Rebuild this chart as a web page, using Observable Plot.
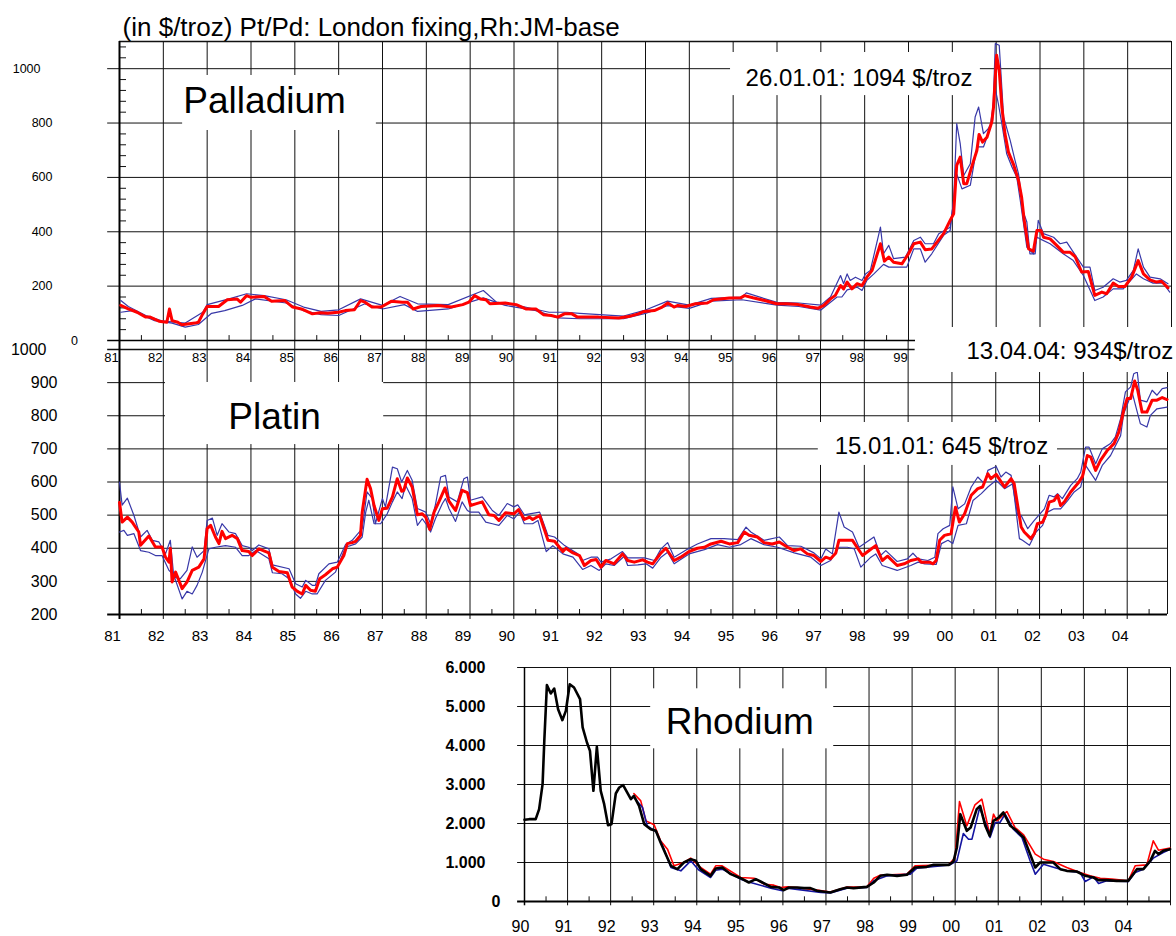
<!DOCTYPE html>
<html><head><meta charset="utf-8">
<script src="https://cdn.jsdelivr.net/npm/d3@7"></script>
<script src="https://cdn.jsdelivr.net/npm/@observablehq/plot@0.6"></script>
<style>
body{margin:0;background:#fff;}
#wrap{position:relative;width:1176px;height:936px;overflow:hidden;background:#fff;}
#wrap svg{position:absolute;left:0;top:0;}
</style></head><body><div id="wrap"></div>
<script>
// ---------------- DATA ----------------
const titleText = "(in $/troz) Pt/Pd: London fixing,Rh:JM-base";

// Palladium (London fixing) : monthly average (red), high / low (blue)
const pdAvg = [[1981.03,129],[1981.2,116],[1981.4,104],[1981.6,86],[1981.7,86],[1981.9,71],[1982.08,67],[1982.14,116],[1982.2,73],[1982.33,67],[1982.42,58],[1982.59,62],[1982.72,64],[1982.8,67],[1982.9,98],[1983.0,125],[1983.26,125],[1983.46,150],[1983.68,153],[1983.76,141],[1983.9,165],[1984.0,159],[1984.3,162],[1984.47,144],[1984.77,147],[1984.95,123],[1985.15,116],[1985.4,98],[1985.57,102],[1985.75,100],[1985.92,103],[1986.0,104],[1986.15,110],[1986.36,113],[1986.5,147],[1986.6,141],[1986.76,123],[1986.97,123],[1987.2,144],[1987.45,141],[1987.57,141],[1987.7,116],[1987.88,125],[1988.27,129],[1988.57,123],[1988.83,132],[1988.97,141],[1989.1,165],[1989.23,153],[1989.36,150],[1989.45,135],[1989.8,138],[1990.05,132],[1990.27,116],[1990.5,116],[1990.67,95],[1990.85,92],[1991.0,86],[1991.15,98],[1991.32,98],[1991.45,86],[1991.75,86],[1991.93,86],[1992.39,83],[1992.61,88],[1992.84,98],[1992.97,107],[1993.2,110],[1993.38,123],[1993.51,138],[1993.65,123],[1993.74,129],[1993.92,125],[1994.14,135],[1994.41,138],[1994.55,150],[1994.91,156],[1995.17,157],[1995.26,165],[1995.45,157],[1995.72,147],[1995.99,135],[1996.22,135],[1996.49,132],[1996.76,123],[1996.94,119],[1997.07,129],[1997.22,153],[1997.33,166],[1997.45,202],[1997.52,190],[1997.6,215],[1997.71,190],[1997.83,209],[1997.94,202],[1998.05,233],[1998.17,258],[1998.36,356],[1998.45,292],[1998.55,307],[1998.66,288],[1998.85,282],[1999.0,319],[1999.12,356],[1999.27,362],[1999.38,334],[1999.53,337],[1999.65,362],[1999.8,393],[1999.95,442],[2000.03,466],[2000.1,644],[2000.18,675],[2000.26,577],[2000.33,577],[2000.44,638],[2000.56,699],[2000.61,758],[2000.69,730],[2000.79,748],[2000.9,804],[2000.94,859],[2001.01,1049],[2001.07,994],[2001.13,859],[2001.2,761],[2001.28,693],[2001.39,650],[2001.51,589],[2001.58,528],[2001.64,442],[2001.74,337],[2001.85,329],[2001.93,405],[2002.02,405],[2002.08,380],[2002.23,374],[2002.38,350],[2002.53,325],[2002.68,325],[2002.8,309],[2002.95,252],[2003.1,254],[2003.25,166],[2003.41,178],[2003.52,172],[2003.67,211],[2003.79,199],[2003.94,199],[2004.09,233],[2004.24,294],[2004.36,245],[2004.51,223],[2004.66,215],[2004.77,218],[2004.92,194]];
const pdHigh = [[1981.03,147],[1981.2,125],[1981.6,92],[1982.0,71],[1982.5,64],[1982.9,104],[1983.0,132],[1983.5,153],[1983.9,172],[1984.3,165],[1984.8,150],[1985.2,123],[1985.6,107],[1986.0,113],[1986.5,153],[1987.0,129],[1987.4,162],[1987.8,135],[1988.5,132],[1989.3,184],[1989.6,141],[1990.2,125],[1990.8,104],[1991.2,104],[1991.5,100],[1992.5,90],[1993.0,112],[1993.5,145],[1994.0,130],[1994.5,155],[1995.2,160],[1995.3,175],[1996.0,140],[1996.5,138],[1997.0,130],[1997.22,160],[1997.45,239],[1997.52,209],[1997.6,245],[1997.67,221],[1997.79,233],[1997.94,221],[1998.02,245],[1998.13,258],[1998.36,417],[1998.43,319],[1998.55,350],[1998.66,301],[1998.93,307],[1999.12,368],[1999.27,380],[1999.38,356],[1999.57,356],[1999.69,393],[1999.95,417],[2000.03,515],[2000.1,798],[2000.18,724],[2000.26,607],[2000.41,650],[2000.52,822],[2000.6,859],[2000.71,761],[2000.82,779],[2000.92,810],[2000.98,1092],[2001.07,1086],[2001.17,822],[2001.32,736],[2001.43,663],[2001.51,613],[2001.62,472],[2001.7,436],[2001.77,319],[2001.89,319],[2001.96,442],[2002.08,393],[2002.31,380],[2002.46,356],[2002.61,362],[2002.76,325],[2002.99,270],[2003.14,270],[2003.25,184],[2003.44,196],[2003.67,227],[2003.82,215],[2003.97,221],[2004.13,258],[2004.24,337],[2004.36,270],[2004.51,233],[2004.74,227],[2004.92,209]];
const pdLow = [[1981.03,104],[1981.3,110],[1981.8,73],[1982.2,64],[1982.5,49],[1982.8,59],[1983.1,100],[1983.4,110],[1983.8,129],[1984.1,153],[1984.8,138],[1985.2,110],[1985.6,95],[1986.0,92],[1986.6,135],[1987.0,116],[1987.5,132],[1987.8,107],[1988.5,116],[1989.3,157],[1989.8,129],[1990.5,110],[1991.0,83],[1991.5,80],[1992.5,80],[1993.0,100],[1993.5,128],[1994.0,118],[1994.5,145],[1995.2,150],[1996.0,130],[1996.5,125],[1997.0,112],[1997.22,141],[1997.37,160],[1997.48,160],[1997.6,186],[1997.83,196],[1997.94,184],[1998.05,221],[1998.21,245],[1998.43,280],[1998.55,270],[1998.96,270],[1999.12,337],[1999.27,337],[1999.38,288],[1999.53,319],[1999.8,387],[1999.95,405],[2000.1,613],[2000.22,558],[2000.41,571],[2000.56,712],[2000.71,712],[2000.86,779],[2000.98,926],[2001.05,871],[2001.13,797],[2001.24,687],[2001.36,638],[2001.47,601],[2001.55,515],[2001.7,343],[2001.85,319],[2001.93,380],[2002.0,374],[2002.23,356],[2002.53,319],[2002.76,294],[2002.99,239],[2003.25,147],[2003.44,160],[2003.67,190],[2003.9,190],[2004.2,245],[2004.36,227],[2004.58,211],[2004.81,211],[2004.96,178]];

// Platinum (London fixing)
const ptAvg = [[1981.0,538],[1981.06,479],[1981.18,494],[1981.29,479],[1981.44,449],[1981.48,409],[1981.67,437],[1981.82,404],[1981.97,404],[1982.05,373],[1982.13,358],[1982.16,400],[1982.2,298],[1982.28,328],[1982.43,278],[1982.54,298],[1982.66,333],[1982.81,343],[1982.93,368],[1983.0,459],[1983.08,469],[1983.19,434],[1983.27,414],[1983.34,451],[1983.42,429],[1983.57,439],[1983.69,429],[1983.8,393],[1983.95,390],[1984.03,378],[1984.18,398],[1984.41,386],[1984.49,343],[1984.64,330],[1984.83,326],[1984.94,283],[1985.06,270],[1985.17,262],[1985.25,288],[1985.36,273],[1985.47,270],[1985.57,308],[1985.7,320],[1985.86,338],[1985.97,343],[1986.12,378],[1986.2,414],[1986.31,417],[1986.39,421],[1986.5,439],[1986.54,509],[1986.65,608],[1986.73,580],[1986.81,529],[1986.92,484],[1987.0,519],[1987.11,521],[1987.23,555],[1987.34,610],[1987.44,572],[1987.49,575],[1987.57,612],[1987.68,585],[1987.8,501],[1987.91,504],[1987.99,494],[1988.08,457],[1988.18,509],[1988.29,540],[1988.43,582],[1988.52,542],[1988.67,514],[1988.82,575],[1988.94,568],[1989.01,529],[1989.13,534],[1989.28,540],[1989.43,501],[1989.55,499],[1989.66,484],[1989.81,507],[1990.0,504],[1990.11,517],[1990.24,487],[1990.36,494],[1990.43,487],[1990.59,499],[1990.78,424],[1990.93,421],[1991.12,390],[1991.19,400],[1991.35,386],[1991.5,378],[1991.61,348],[1991.76,363],[1991.88,366],[1991.99,343],[1992.1,363],[1992.29,353],[1992.48,383],[1992.6,363],[1992.75,358],[1992.94,365],[1993.05,358],[1993.17,353],[1993.36,386],[1993.47,400],[1993.66,363],[1993.81,373],[1994.0,390],[1994.19,400],[1994.35,403],[1994.5,413],[1994.73,421],[1994.92,413],[1995.11,417],[1995.26,449],[1995.37,439],[1995.56,434],[1995.71,417],[1995.9,413],[1996.06,419],[1996.25,403],[1996.4,393],[1996.55,398],[1996.7,383],[1996.85,378],[1997.01,360],[1997.12,373],[1997.23,368],[1997.35,386],[1997.42,424],[1997.54,424],[1997.73,424],[1997.96,378],[1998.11,393],[1998.26,408],[1998.41,363],[1998.53,376],[1998.75,348],[1998.91,353],[1999.06,363],[1999.23,368],[1999.3,358],[1999.49,358],[1999.57,353],[1999.64,363],[1999.72,424],[1999.83,439],[1999.98,444],[2000.08,524],[2000.17,479],[2000.29,504],[2000.44,560],[2000.59,580],[2000.7,585],[2000.82,625],[2000.89,610],[2001.01,623],[2001.2,585],[2001.35,610],[2001.42,595],[2001.58,464],[2001.65,449],[2001.8,429],[2001.88,444],[2001.95,474],[2002.07,479],[2002.14,499],[2002.22,539],[2002.33,544],[2002.41,560],[2002.48,529],[2002.56,539],[2002.71,570],[2002.9,600],[2002.98,617],[2003.09,680],[2003.17,675],[2003.28,635],[2003.39,665],[2003.55,696],[2003.7,716],[2003.81,751],[2003.92,816],[2004.0,852],[2004.08,852],[2004.17,905],[2004.24,877],[2004.34,811],[2004.45,811],[2004.57,847],[2004.68,847],[2004.8,855],[2004.91,849]];
const ptHigh = [[1981.0,600],[1981.06,530],[1981.18,551],[1981.33,499],[1981.48,434],[1981.63,454],[1981.75,424],[1981.9,419],[1982.05,383],[1982.16,424],[1982.24,313],[1982.39,308],[1982.54,333],[1982.66,404],[1982.77,373],[1982.93,393],[1983.0,484],[1983.12,491],[1983.23,439],[1983.34,474],[1983.5,449],[1983.65,444],[1983.8,408],[1983.95,403],[1984.03,393],[1984.18,410],[1984.41,398],[1984.49,350],[1984.87,338],[1985.02,293],[1985.17,283],[1985.25,303],[1985.4,288],[1985.47,288],[1985.55,323],[1985.78,353],[1985.97,358],[1986.16,411],[1986.31,424],[1986.54,459],[1986.65,570],[1986.77,550],[1986.84,474],[1987.0,550],[1987.07,525],[1987.23,645],[1987.34,640],[1987.44,600],[1987.57,635],[1987.68,605],[1987.8,520],[1987.99,509],[1988.1,474],[1988.21,531],[1988.33,615],[1988.44,620],[1988.52,555],[1988.71,540],[1988.86,610],[1988.94,615],[1989.01,545],[1989.28,555],[1989.51,514],[1989.66,499],[1989.85,535],[1990.0,525],[1990.09,531],[1990.24,501],[1990.36,504],[1990.59,509],[1990.78,439],[1990.93,434],[1991.16,408],[1991.46,383],[1991.57,363],[1991.76,373],[1991.91,373],[1991.99,358],[1992.22,368],[1992.48,390],[1992.6,371],[1992.98,371],[1993.21,363],[1993.36,398],[1993.51,417],[1993.66,373],[1993.97,398],[1994.19,413],[1994.5,429],[1994.8,429],[1995.11,426],[1995.3,464],[1995.41,449],[1995.71,424],[1996.06,434],[1996.25,408],[1996.55,406],[1996.85,386],[1997.01,368],[1997.12,398],[1997.27,383],[1997.42,509],[1997.54,464],[1997.73,449],[1997.88,403],[1998.22,434],[1998.37,378],[1998.49,393],[1998.75,360],[1998.98,368],[1999.11,385],[1999.23,368],[1999.45,363],[1999.61,373],[1999.68,444],[1999.8,459],[1999.95,469],[2000.02,585],[2000.14,519],[2000.29,534],[2000.44,585],[2000.59,615],[2000.74,595],[2000.82,635],[2001.01,647],[2001.12,615],[2001.23,630],[2001.35,620],[2001.5,499],[2001.58,499],[2001.73,459],[2001.88,484],[2002.11,519],[2002.22,560],[2002.33,555],[2002.41,565],[2002.52,550],[2002.71,590],[2002.86,610],[2002.94,630],[2003.05,705],[2003.13,705],[2003.28,655],[2003.43,700],[2003.62,716],[2003.73,736],[2003.85,791],[2003.96,872],[2004.08,887],[2004.15,927],[2004.23,932],[2004.3,847],[2004.45,842],[2004.57,877],[2004.68,862],[2004.8,882],[2004.91,885]];
const ptLow = [[1981.0,449],[1981.1,454],[1981.18,439],[1981.33,444],[1981.48,393],[1981.67,388],[1981.82,378],[1981.97,378],[1982.13,333],[1982.24,318],[1982.43,247],[1982.54,270],[1982.66,262],[1982.77,288],[1982.89,328],[1983.04,398],[1983.19,403],[1983.42,408],[1983.65,403],[1983.8,378],[1983.95,378],[1984.11,393],[1984.41,368],[1984.49,326],[1984.71,323],[1984.87,308],[1985.02,262],[1985.13,249],[1985.25,270],[1985.4,262],[1985.51,262],[1985.7,303],[1985.93,328],[1986.16,403],[1986.39,413],[1986.54,434],[1986.62,509],[1986.69,545],[1986.81,474],[1986.96,474],[1987.11,504],[1987.23,540],[1987.34,570],[1987.45,550],[1987.53,590],[1987.68,550],[1987.8,469],[1987.91,489],[1988.02,469],[1988.1,449],[1988.21,489],[1988.37,535],[1988.44,550],[1988.52,520],[1988.67,481],[1988.82,540],[1988.94,514],[1989.01,509],[1989.2,509],[1989.36,479],[1989.51,474],[1989.66,469],[1989.85,499],[1990.0,489],[1990.13,509],[1990.24,474],[1990.43,474],[1990.55,484],[1990.74,390],[1990.89,408],[1991.12,383],[1991.35,373],[1991.57,336],[1991.76,348],[1991.95,333],[1992.1,353],[1992.29,348],[1992.52,376],[1992.6,348],[1992.83,350],[1993.02,353],[1993.17,340],[1993.36,373],[1993.51,388],[1993.66,353],[1994.0,383],[1994.35,396],[1994.65,411],[1994.92,403],[1995.18,411],[1995.41,429],[1995.71,411],[1996.02,403],[1996.4,386],[1996.78,373],[1997.01,348],[1997.23,363],[1997.42,403],[1997.61,403],[1997.77,398],[1997.92,343],[1998.15,373],[1998.26,383],[1998.41,348],[1998.75,333],[1999.06,348],[1999.23,358],[1999.38,353],[1999.64,351],[1999.76,414],[1999.91,424],[2000.02,414],[2000.14,469],[2000.33,474],[2000.48,544],[2000.67,565],[2000.82,585],[2001.01,605],[2001.2,580],[2001.39,595],[2001.54,429],[2001.61,424],[2001.77,409],[2001.92,449],[2002.07,469],[2002.18,509],[2002.33,519],[2002.48,519],[2002.64,544],[2002.79,570],[2002.94,585],[2003.05,650],[2003.28,605],[2003.43,650],[2003.62,680],[2003.85,740],[2003.92,806],[2004.04,847],[2004.11,872],[2004.23,811],[2004.3,776],[2004.45,766],[2004.53,801],[2004.68,821],[2004.91,826]];

// Rhodium (JM base): main (black), high (red), low (blue)
const rhMid = [[1990.0,2094],[1990.11,2111],[1990.26,2111],[1990.34,2367],[1990.42,3009],[1990.46,4120],[1990.52,5547],[1990.61,5333],[1990.69,5461],[1990.78,4931],[1990.88,4650],[1990.96,4889],[1991.05,5572],[1991.15,5487],[1991.29,5188],[1991.35,4462],[1991.45,4077],[1991.52,3863],[1991.6,2838],[1991.68,3966],[1991.77,2838],[1991.85,2496],[1991.94,1957],[1992.02,1983],[1992.12,2769],[1992.2,2923],[1992.29,2983],[1992.47,2624],[1992.54,2709],[1992.66,2453],[1992.78,1983],[1992.93,1855],[1993.05,1812],[1993.16,1513],[1993.28,1214],[1993.4,915],[1993.55,829],[1993.7,1000],[1993.86,1085],[1993.98,1043],[1994.09,829],[1994.32,658],[1994.44,846],[1994.59,872],[1994.79,701],[1995.02,598],[1995.21,487],[1995.37,573],[1995.48,513],[1995.72,376],[1995.91,359],[1996.02,291],[1996.14,359],[1996.33,359],[1996.49,342],[1996.64,342],[1996.79,274],[1997.1,231],[1997.33,316],[1997.49,359],[1997.64,342],[1997.95,376],[1998.11,487],[1998.26,658],[1998.42,684],[1998.65,658],[1998.88,684],[1999.07,872],[1999.34,889],[1999.5,940],[1999.85,940],[1999.96,1026],[2000.04,1385],[2000.12,2239],[2000.27,1812],[2000.36,1897],[2000.5,2367],[2000.58,2453],[2000.7,1940],[2000.8,1684],[2000.89,2068],[2001.01,2154],[2001.12,2282],[2001.28,1940],[2001.43,1812],[2001.59,1641],[2001.74,1214],[2001.86,872],[2001.97,1000],[2002.13,1000],[2002.28,1000],[2002.44,829],[2002.59,786],[2002.82,769],[2003.02,658],[2003.21,615],[2003.33,547],[2003.52,547],[2003.75,530],[2004.02,530],[2004.22,829],[2004.37,829],[2004.53,1043],[2004.64,1299],[2004.72,1214],[2004.83,1299],[2004.99,1342]];
const rhHigh = [[1992.54,2769],[1992.7,2581],[1992.82,2068],[1993.01,1966],[1993.16,1556],[1993.32,1342],[1993.47,915],[1993.7,1000],[1993.86,1111],[1994.09,872],[1994.32,701],[1994.44,915],[1994.59,915],[1995.02,615],[1995.33,598],[1995.56,444],[1995.79,419],[1995.95,359],[1996.1,376],[1996.4,350],[1996.79,291],[1997.1,240],[1997.49,370],[1997.95,376],[1998.11,598],[1998.26,675],[1998.88,701],[1999.07,915],[1999.85,940],[2000.0,1128],[2000.1,2564],[2000.27,1940],[2000.46,2479],[2000.62,2624],[2000.8,1726],[2000.89,2239],[2000.97,2068],[2001.2,2308],[2001.39,1897],[2001.59,1709],[2001.86,1214],[2002.05,1085],[2002.28,1026],[2002.59,872],[2002.9,744],[2003.13,658],[2003.37,598],[2003.64,573],[2004.02,530],[2004.18,915],[2004.45,940],[2004.6,1556],[2004.72,1316],[2004.99,1368]];
const rhLow = [[1992.54,2667],[1992.74,2410],[1992.85,1940],[1993.05,1795],[1993.24,1342],[1993.4,872],[1993.63,786],[1993.86,1043],[1994.05,803],[1994.32,615],[1994.44,803],[1994.59,829],[1995.02,573],[1995.25,487],[1995.72,342],[1995.99,274],[1996.1,342],[1996.88,231],[1997.1,220],[1997.49,340],[1997.95,359],[1998.11,530],[1998.42,658],[1998.96,701],[1999.11,855],[1999.88,940],[2000.04,1043],[2000.19,1744],[2000.31,1598],[2000.39,1598],[2000.57,2410],[2000.74,1897],[2000.81,1641],[2000.93,2026],[2001.04,2026],[2001.16,2239],[2001.35,1855],[2001.55,1641],[2001.74,1043],[2001.86,701],[2002.05,957],[2002.36,855],[2002.59,786],[2002.9,744],[2003.02,513],[2003.21,632],[2003.33,462],[2003.52,530],[2004.02,513],[2004.18,744],[2004.37,829],[2004.6,1111],[2004.83,1256],[2004.99,1342]];

// Axis ticks and labels
const pdYTicks = [200, 400, 600, 800];
const pdYLabels = ["200", "400", "600", "800"];
const pdXYears = [1981,1982,1983,1984,1985,1986,1987,1988,1989,1990,1991,1992,1993,1994,1995,1996,1997,1998,1999];
const pdXLabels = ["81","82","83","84","85","86","87","88","89","90","91","92","93","94","95","96","97","98","99"];
const ptYTicks = [200, 300, 400, 500, 600, 700, 800, 900];
const ptYLabels = ["200","300","400","500","600","700","800","900"];
const ptXYears = [1981,1982,1983,1984,1985,1986,1987,1988,1989,1990,1991,1992,1993,1994,1995,1996,1997,1998,1999,2000,2001,2002,2003,2004];
const ptXLabels = ["81","82","83","84","85","86","87","88","89","90","91","92","93","94","95","96","97","98","99","00","01","02","03","04"];
const rhYTicks = [1000, 2000, 3000, 4000, 5000, 6000];
const rhYLabels = ["1.000","2.000","3.000","4.000","5.000","6.000"];
const rhXYears = [1990,1991,1992,1993,1994,1995,1996,1997,1998,1999,2000,2001,2002,2003,2004];
const rhXLabels = ["90","91","92","93","94","95","96","97","98","99","00","01","02","03","04"];

// ---------------- DRAWING ----------------
const FONT = "'Liberation Sans', Arial, Helvetica, sans-serif";
const GRID = "#111";
const BLUE = "#3838a8";
const c = v => () => v;
const X = d => d[0], Y = d => d[1];
const style = {background: "transparent", fontFamily: FONT, overflow: "visible"};
const halfYears = (a, b) => d3.range(a + 0.5, b, 1);

// Platinum (bottom layer)
const pt = Plot.plot({
  width: 1176, height: 936,
  marginLeft: 119, marginRight: 9, marginTop: 349, marginBottom: 322,
  x: {domain: [1981, 2004.92], axis: null}, y: {domain: [200, 1000], axis: null},
  style,
  marks: [
    Plot.ruleX(ptXYears.slice(1), {x: d => d, y1: c(185), y2: c(1027), stroke: GRID, strokeWidth: 1}),
    Plot.ruleY(ptYTicks.slice(1), {y: d => d, x1: c(1980.73), x2: c(2004.92), stroke: GRID, strokeWidth: 1}),
    Plot.ruleY([1000], {x1: c(1980.73), x2: c(1999.16), stroke: GRID, strokeWidth: 1.3}),
    Plot.ruleX([2004.92], {y1: c(200), y2: c(1000), stroke: GRID, strokeWidth: 1}),
    Plot.ruleX(halfYears(1981, 2005), {x: d => d, y1: c(200), y2: c(215), stroke: GRID, strokeWidth: 1}),
    Plot.ruleY([200], {x1: c(1980.73), x2: c(2004.92), stroke: "#000", strokeWidth: 2}),
    Plot.ruleX([1981], {y1: c(185), y2: c(1027), stroke: "#000", strokeWidth: 2}),
    Plot.rect([0], {x1: c(1982.05), x2: c(1987.03), y1: c(713), y2: c(900.4), fill: "white"}),
    Plot.rect([0], {x1: c(1996.95), x2: c(2002.41), y1: c(650), y2: c(779.6), fill: "white"}),
    Plot.line(ptHigh, {x: X, y: Y, stroke: BLUE, strokeWidth: 1.2}),
    Plot.line(ptLow, {x: X, y: Y, stroke: BLUE, strokeWidth: 1.2}),
    Plot.line(ptAvg, {x: X, y: Y, stroke: "#ff0000", strokeWidth: 3, strokeLinejoin: "round"}),
    Plot.text(["Platin"], {x: c(1984.54), y: c(796), text: d => d, fontSize: 37}),
    Plot.text(["15.01.01: 645 $/troz"], {x: c(1999.76), y: c(708), text: d => d, fontSize: 24}),
    Plot.text(ptYLabels, {x: c(1981), y: (d, i) => ptYTicks[i], text: d => d, textAnchor: "end", dx: -62, fontSize: 16}),
    Plot.text(["1000"], {x: c(1981), y: c(1000), text: d => d, textAnchor: "end", dx: -73, fontSize: 16}),
    Plot.text(ptXLabels, {x: (d, i) => ptXYears[i], y: c(133.6), text: d => d, dx: -7, fontSize: 15})
  ]
});

// Rhodium
const rh = Plot.plot({
  width: 1176, height: 936,
  marginLeft: 524, marginRight: 6, marginTop: 667, marginBottom: 35,
  x: {domain: [1990, 2005], axis: null}, y: {domain: [0, 6000], axis: null},
  style,
  marks: [
    Plot.ruleX(rhXYears.slice(1), {x: d => d, y1: c(-110), y2: c(6000), stroke: GRID, strokeWidth: 1}),
    Plot.ruleY(rhYTicks, {y: d => d, x1: c(1989.84), x2: c(2005), stroke: GRID, strokeWidth: 1}),
    Plot.ruleX([2005], {y1: c(-110), y2: c(6000), stroke: GRID, strokeWidth: 1}),
    Plot.ruleX(halfYears(1990, 2005), {x: d => d, y1: c(0), y2: c(120), stroke: GRID, strokeWidth: 1}),
    Plot.ruleY([0], {x1: c(1989.84), x2: c(2005), stroke: "#000", strokeWidth: 2}),
    Plot.ruleX([1990], {y1: c(-110), y2: c(6000), stroke: "#000", strokeWidth: 1.5}),
    Plot.rect([0], {x1: c(1992.93), x2: c(1997.18), y1: c(3915), y2: c(5454), fill: "white"}),
    Plot.line(rhHigh, {x: X, y: Y, stroke: "#ff0000", strokeWidth: 1.6}),
    Plot.line(rhLow, {x: X, y: Y, stroke: "#1414a0", strokeWidth: 1.6}),
    Plot.line(rhMid, {x: X, y: Y, stroke: "#000", strokeWidth: 2.6, strokeLinejoin: "round"}),
    Plot.text(["Rhodium"], {x: c(1995.0), y: c(4603), text: d => d, fontSize: 37}),
    Plot.text(rhYLabels, {x: c(1990), y: (d, i) => rhYTicks[i], text: d => d, textAnchor: "end", dx: -39, fontSize: 16, fontWeight: "bold"}),
    Plot.text(["0"], {x: c(1990), y: c(0), text: d => d, textAnchor: "end", dx: -24, fontSize: 16, fontWeight: "bold"}),
    Plot.text(rhXLabels, {x: (d, i) => rhXYears[i], y: c(-660), text: d => d, dx: -4, fontSize: 16})
  ]
});

// Palladium (top layer)
const pd = Plot.plot({
  width: 1176, height: 936,
  marginLeft: 119, marginRight: 5, marginTop: 41, marginBottom: 596,
  x: {domain: [1981, 2005], axis: null}, y: {domain: [0, 1100], axis: null},
  style,
  marks: [
    Plot.ruleX(ptXYears.slice(1), {x: d => d, y1: c(0), y2: c(1100), stroke: GRID, strokeWidth: 1}),
    Plot.ruleY([200, 400, 600, 800, 1000], {y: d => d, x1: c(1980.73), x2: c(2005), stroke: GRID, strokeWidth: 1}),
    Plot.ruleY([1100], {x1: c(1981), x2: c(2005), stroke: GRID, strokeWidth: 1.3}),
    Plot.ruleX([2005], {y1: c(0), y2: c(1100), stroke: GRID, strokeWidth: 1}),
    Plot.ruleY(d3.range(40, 1100, 40).filter(v => v % 200), {y: d => d, x1: c(1981), x2: c(1981.16), stroke: GRID, strokeWidth: 1}),
    Plot.ruleX(halfYears(1981, 2000), {x: d => d, y1: c(0), y2: c(18), stroke: GRID, strokeWidth: 1}),
    Plot.ruleY([0], {x1: c(1980.73), x2: c(1999.16), stroke: "#000", strokeWidth: 1.5}),
    Plot.ruleX([1981], {y1: c(0), y2: c(1100), stroke: "#000", strokeWidth: 2}),
    Plot.rect([0], {x1: c(1982.44), x2: c(1986.86), y1: c(772.6), y2: c(975), fill: "white"}),
    Plot.rect([0], {x1: c(1994.94), x2: c(2000.64), y1: c(901), y2: c(1059.5), fill: "white"}),
    Plot.rect([0], {x1: c(1999.16), x2: c(2005.2), y1: c(-117.7), y2: c(47.8), fill: "white"}),
    Plot.line(pdHigh, {x: X, y: Y, stroke: BLUE, strokeWidth: 1.2}),
    Plot.line(pdLow, {x: X, y: Y, stroke: BLUE, strokeWidth: 1.2}),
    Plot.line(pdAvg, {x: X, y: Y, stroke: "#ff0000", strokeWidth: 3, strokeLinejoin: "round"}),
    Plot.text(["Palladium"], {x: c(1984.31), y: c(882), text: d => d, fontSize: 37}),
    Plot.text(["26.01.01: 1094 $/troz"], {x: c(1997.87), y: c(966), text: d => d, fontSize: 24}),
    Plot.text(["13.04.04: 934$/troz"], {x: c(2005.04), y: c(-39), text: d => d, textAnchor: "end", fontSize: 24}),
    Plot.text([titleText], {x: c(1981.07), y: c(1152.7), text: d => d, textAnchor: "start", fontSize: 26}),
    Plot.text(pdYLabels, {x: c(1981), y: (d, i) => pdYTicks[i], text: d => d, textAnchor: "end", dx: -67, fontSize: 12.5}),
    Plot.text(["1000"], {x: c(1981), y: c(1000), text: d => d, textAnchor: "end", dx: -79, fontSize: 12.5}),
    Plot.text(["0"], {x: c(1981), y: c(0), text: d => d, dx: -45, fontSize: 12.5}),
    Plot.text(pdXLabels, {x: (d, i) => pdXYears[i], y: c(-62.5), text: d => d, dx: -8, fontSize: 13})
  ]
});

const wrap = document.getElementById("wrap");
wrap.appendChild(pt);
wrap.appendChild(rh);
wrap.appendChild(pd);
</script></body></html>
